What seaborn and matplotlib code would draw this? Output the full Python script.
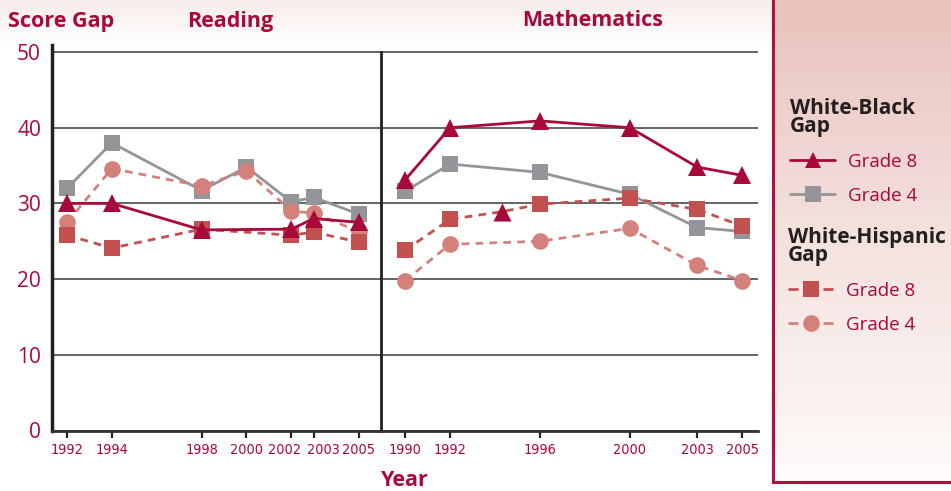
import numpy as np
import matplotlib.pyplot as plt
import matplotlib.colors as mcolors
import matplotlib.transforms as mtransforms
from matplotlib import font_manager
from matplotlib.lines import Line2D
import seaborn as sns

# ---- data (score gaps, points) ----
# Reading
read_wb8_years = [1992, 1994, 1998, 2002, 2003, 2005]
read_wb8 = [30.0, 30.0, 26.5, 26.6, 28.0, 27.5]
read_wb4_years = [1992, 1994, 1998, 2000, 2002, 2003, 2005]
read_wb4 = [32.0, 38.0, 31.7, 34.8, 30.2, 30.8, 28.6]
read_wh8_years = [1992, 1994, 1998, 2002, 2003, 2005]
read_wh8 = [25.8, 24.1, 26.6, 25.8, 26.2, 24.9]
read_wh4_years = [1992, 1994, 1998, 2000, 2002, 2003, 2005]
read_wh4 = [27.5, 34.6, 32.3, 34.3, 29.0, 28.7, 26.3]
read_ticks = [1992, 1994, 1998, 2000, 2002, 2003, 2005]

# Mathematics
math_wb8_years = [1990, 1992, 1996, 2000, 2003, 2005]
math_wb8 = [33.1, 40.0, 40.9, 40.0, 34.8, 33.7]
math_wb4_years = [1990, 1992, 1996, 2000, 2003, 2005]
math_wb4 = [31.6, 35.2, 34.1, 31.2, 26.8, 26.3]
# the original shows a stray triangle marker on this line (third point)
math_wh8_years = [1990, 1992, 1994.3, 1996, 2000, 2003, 2005]
math_wh8 = [23.8, 27.9, 28.9, 29.9, 30.7, 29.2, 27.0]
math_wh4_years = [1990, 1992, 1996, 2000, 2003, 2005]
math_wh4 = [19.8, 24.6, 25.0, 26.7, 21.8, 19.8]
math_ticks = [1990, 1992, 1996, 2000, 2003, 2005]

y_ticks = [0, 10, 20, 30, 40, 50]

# ---- styles ----
CRIMSON = '#A8083A'
GRAY = '#939598'
RED = '#C2504F'
PINK = '#D4817C'
DARK = '#231F20'
DASH = (0, (2.8, 2.2))

sns.set_style('white')
plt.rcParams['font.family'] = ['Open Sans', 'DejaVu Sans']

W, H = 951, 491
fig = plt.figure(figsize=(W / 100, H / 100), dpi=100)

# year labels are set in a condensed face in the original; use one if installed
fonts = font_manager.fontManager.ttflist
names = {f.name for f in fonts}
if 'Liberation Sans Narrow' in names:
    year_font = dict(family=['Liberation Sans Narrow', 'DejaVu Sans'])
elif any(f.name == 'DejaVu Sans' and f.stretch == 'condensed' for f in fonts):
    year_font = dict(family=['DejaVu Sans'], fontstretch='condensed')
else:
    year_font = dict(family=['Roboto', 'DejaVu Sans'])
# size it so that a year label is about 33 px wide
probe = fig.text(0, 0, '2000', fontsize=10, **year_font)
probe_w = probe.get_window_extent(fig.canvas.get_renderer()).width
probe.remove()
year_font['fontsize'] = min(12.5, 10 * 33 / probe_w)


def fx(px):
    return px / W


def fy(py):
    return 1 - py / H


# faint band behind the header
band = fig.add_axes([0, fy(45), fx(773), 45 / H])
grad = np.linspace(0, 1, 64).reshape(-1, 1)
band.imshow(grad, aspect='auto', extent=[0, 1, 0, 1],
            cmap=mcolors.LinearSegmentedColormap.from_list('b', ['#FFFFFF', '#F7ECE9']),
            origin='lower')
band.axis('off')

# legend panel with gradient
panel = fig.add_axes([fx(773), fy(482), fx(951 - 773), 482 / H])
panel.imshow(grad, aspect='auto', extent=[0, 1, 0, 1],
             cmap=mcolors.LinearSegmentedColormap.from_list('p', ['#FEFBFA', '#F4E2DF', '#E9C3BD']),
             origin='lower')
panel.set_xticks([])
panel.set_yticks([])
for side in ['top', 'right']:
    panel.spines[side].set_visible(False)
for side in ['left', 'bottom']:
    panel.spines[side].set_color('#B0123F')
    panel.spines[side].set_linewidth(2.2)

# plot axes: same year scale in both panels
ax_bottom, ax_top = 430.5, 45
ax_r = fig.add_axes([fx(52), fy(ax_bottom), fx(381 - 52), (ax_bottom - ax_top) / H])
ax_m = fig.add_axes([fx(381), fy(ax_bottom), fx(758 - 381), (ax_bottom - ax_top) / H])
ymax = 50 + (52 - ax_top) / 7.56
ax_r.set_xlim(1991.33, 2006.0)
ax_m.set_xlim(1988.93, 2005.7)


def draw_series(ax, years, values, color, marker, ms, dashed, markevery=None):
    kw = dict(color=color, marker=marker, markersize=ms, markeredgewidth=0, linewidth=2)
    if dashed:
        kw['linestyle'] = DASH
    if markevery is not None:
        kw['markevery'] = markevery
    sns.lineplot(x=years, y=values, ax=ax, **kw)


draw_series(ax_r, read_wb4_years, read_wb4, GRAY, 's', 11, False)
draw_series(ax_r, read_wh4_years, read_wh4, PINK, 'o', 12, True)
draw_series(ax_r, read_wh8_years, read_wh8, RED, 's', 11, True)
draw_series(ax_r, read_wb8_years, read_wb8, CRIMSON, '^', 13, False)

draw_series(ax_m, math_wb4_years, math_wb4, GRAY, 's', 11, False)
draw_series(ax_m, math_wh4_years, math_wh4, PINK, 'o', 12, True)
draw_series(ax_m, math_wh8_years, math_wh8, RED, 's', 11, True, markevery=[0, 1, 3, 4, 5, 6])
sns.scatterplot(x=[math_wh8_years[2]], y=[math_wh8[2]], ax=ax_m, marker='^', s=169,
                color=CRIMSON, linewidth=0, zorder=5)
draw_series(ax_m, math_wb8_years, math_wb8, CRIMSON, '^', 13, False)

for ax, ticks in [(ax_r, read_ticks), (ax_m, math_ticks)]:
    ax.set_ylim(0, ymax)
    ax.set_yticks(y_ticks)
    ax.set_xticks(ticks)
    ax.set_xticklabels([str(t) for t in ticks], color=CRIMSON, **year_font)
    ax.grid(axis='y', color='#3A3A3A', linewidth=1.1)
    ax.grid(axis='x', visible=False)
    ax.set_axisbelow(True)
    ax.set_facecolor('none')
    ax.set_xlabel('')
    ax.set_ylabel('')
    ax.tick_params(axis='x', direction='out', length=5, width=1.6, color='#222222', pad=4,
                   bottom=True)
    ax.spines['top'].set_visible(False)
    ax.spines['right'].set_visible(False)
    ax.spines['bottom'].set_color('#333333')
    ax.spines['bottom'].set_linewidth(2)
    ax.spines['left'].set_color(DARK)

# 2002 and 2003 sit one year apart: their labels are pushed apart as in the original
nudge = {'2002': -7, '2003': 10}
for lab in ax_r.get_xticklabels():
    if lab.get_text() in nudge:
        shift = mtransforms.ScaledTranslation(nudge[lab.get_text()] / 100, 0, fig.dpi_scale_trans)
        lab.set_transform(lab.get_transform() + shift)

ax_r.spines['left'].set_linewidth(2.5)
ax_r.set_yticklabels([str(t) for t in y_ticks], fontsize=15, color=CRIMSON)
ax_r.tick_params(axis='y', length=0, pad=8)

ax_m.spines['left'].set_linewidth(2)
ax_m.spines['left'].set_bounds(0, 50)
ax_m.tick_params(axis='y', length=0, labelleft=False)

# headers
fig.text(fx(8), fy(21), 'Score Gap', fontsize=15.5, fontweight='bold', color=CRIMSON, va='center')
fig.text(fx(230), fy(21), 'Reading', fontsize=15.5, fontweight='bold', color=CRIMSON,
         ha='center', va='center')
fig.text(fx(593), fy(21), 'Mathematics', fontsize=15.5, fontweight='bold', color=CRIMSON,
         ha='center', va='center')
fig.text(fx(405), fy(480), 'Year', fontsize=15.5, fontweight='bold', color=CRIMSON,
         ha='center', va='center')

# legends
legend_kw = dict(frameon=False, loc='upper left', bbox_transform=fig.transFigure,
                 alignment='left', borderpad=0, borderaxespad=0, handlelength=2.4,
                 handletextpad=0.7, labelspacing=0.85, fontsize=13.5, labelcolor=CRIMSON,
                 title_fontproperties={'family': 'Open Sans', 'weight': 'bold', 'size': 15})

wb_handles = [
    Line2D([], [], color=CRIMSON, lw=2, marker='^', ms=12, mew=0),
    Line2D([], [], color=GRAY, lw=2, marker='s', ms=11, mew=0),
]
wh_handles = [
    Line2D([], [], color=RED, lw=2, ls=(0, (3.6, 9)), marker='s', ms=11, mew=0),
    Line2D([], [], color=PINK, lw=2, ls=(0, (3.6, 9)), marker='o', ms=12, mew=0),
]

leg1 = fig.legend(wb_handles, ['Grade 8', 'Grade 4'], title='White-Black\nGap',
                  bbox_to_anchor=(fx(790), fy(98)), **legend_kw)
leg2 = fig.legend(wh_handles, ['Grade 8', 'Grade 4'], title='White-Hispanic\nGap',
                  bbox_to_anchor=(fx(788), fy(227)), **legend_kw)
for leg in (leg1, leg2):
    leg.get_title().set_color(DARK)
    leg.get_title().set_linespacing(0.8)

fig.savefig('out.png', dpi=100)
